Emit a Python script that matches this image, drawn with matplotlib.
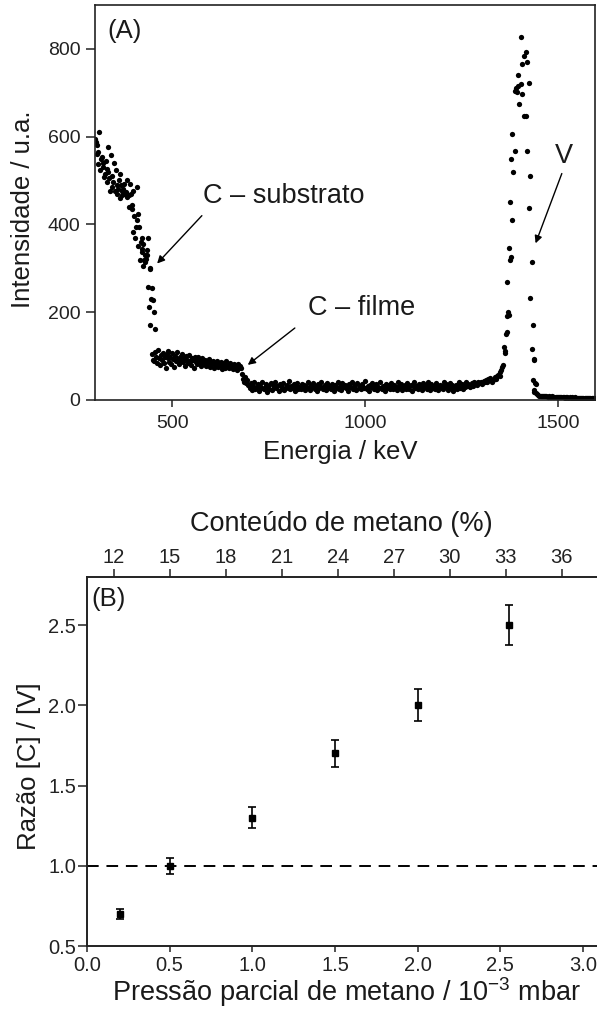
import matplotlib
matplotlib.use("Agg")
import matplotlib.pyplot as plt
import numpy as np

plt.rcParams['font.family'] = ['Liberation Sans', 'DejaVu Sans']
plt.rcParams['mathtext.default'] = 'regular'

# ---------------- Panel A : RBS spectrum ----------------
# substrate carbon edge (energy keV, counts)
sub_energy = [300, 302, 304, 306, 309, 309, 311, 313, 315, 317, 320, 322, 324, 326, 328,
              330, 332, 334, 334, 337, 339, 341, 343, 345, 347, 349, 352, 354, 356, 358,
              360, 362, 365, 365, 367, 369, 369, 372, 375, 378, 380, 382, 384, 387, 389,
              391, 393, 395, 397, 399, 399, 401, 404, 406, 408, 410, 412, 412, 415, 417,
              419, 421, 421, 423, 425, 425, 427, 430, 430, 433, 434, 436, 438, 438, 440,
              442, 442, 442, 445, 449, 451, 453, 455]
sub_counts = [595, 588, 580, 560, 564, 538, 611, 523, 548, 553, 540, 530, 509, 515, 545,
              496, 527, 519, 577, 505, 477, 558, 485, 510, 496, 539, 476, 523, 489, 470,
              481, 502, 514, 461, 490, 477, 466, 480, 492, 470, 475, 501, 462, 468, 439,
              493, 470, 436, 445, 477, 383, 420, 370, 395, 486, 410, 424, 352, 394, 318,
              360, 368, 337, 345, 356, 305, 320, 330, 314, 322, 341, 331, 368, 258, 211,
              301, 299, 170, 230, 256, 227, 200, 161]

# carbon in the film (channel counts, 2.5 keV channels from 448 keV)
film_start_kev = 448
film_step_kev = 2.5
film_counts = [105, 92, 88, 110, 98, 85, 114, 96, 79, 102,
               91, 108, 84, 99, 73, 104, 95, 112, 87, 97,
               82, 106, 93, 76, 101, 89, 109, 94, 81, 98,
               90, 104, 86, 95, 78, 100, 92, 85, 103, 88,
               80, 96, 91, 74, 99, 87, 93, 82, 97, 84,
               90, 78, 95, 86, 81, 92, 77, 89, 84, 93,
               76, 87, 82, 90, 73, 85, 80, 88, 75, 83,
               79, 86, 71, 84, 78, 82, 74, 88, 77, 80,
               72, 85, 76, 79, 70, 83, 75, 78, 69, 81,
               74, 77, 72]

# film edge
edge_energy = [681, 683, 686, 688, 691, 693, 696]
edge_counts = [60, 48, 42, 52, 38, 45, 35]

# low plateau (3 keV channels from 698 keV)
plat_start_kev = 698
plat_step_kev = 3
plat_counts = [34, 27, 38, 22, 31, 40, 25, 29, 36, 21,
               33, 28, 42, 24, 30, 37, 19, 32, 26, 39,
               23, 35, 29, 41, 27, 31, 20, 36, 33, 25,
               38, 22, 30, 34, 28, 43, 24, 31, 27, 36,
               21, 33, 39, 26, 30, 24, 37, 29, 35, 22,
               31, 40, 27, 23, 34, 29, 38, 25, 32, 20,
               36, 28, 33, 41, 24, 30, 35, 22, 39, 27,
               32, 25, 37, 29, 21, 34, 28, 42, 26, 31,
               23, 38, 30, 35, 27, 33, 20, 36, 29, 40,
               25, 31, 34, 22, 39, 28, 32, 24, 37, 30,
               27, 43, 26, 33, 21, 35, 29, 38, 24, 31,
               36, 22, 30, 27, 40, 25, 33, 29, 21, 37,
               28, 34, 24, 39, 31, 26, 35, 30, 23, 41,
               32, 27, 37, 22, 29, 34, 25, 38, 30, 26,
               35, 21, 31, 40, 28, 33, 24, 36, 27, 30,
               22, 38, 29, 34, 26, 41, 31, 23, 37, 28,
               33, 25, 39, 30, 22, 35, 28, 32, 24, 40,
               29, 36, 23, 31, 38, 27, 34, 21, 30, 35,
               26, 32, 40, 28, 37, 24, 33, 29, 42, 31,
               36, 30, 34, 39, 33, 41, 37, 35, 40, 38,
               38, 42, 36, 44, 40, 46, 42, 48, 45, 50]

# vanadium peak (energy keV, counts)
peak_energy = [1329, 1332, 1336, 1339, 1342, 1345, 1349, 1351, 1353, 1356, 1358, 1359,
               1362, 1364, 1366, 1368, 1368, 1370, 1372, 1368, 1372, 1375, 1377, 1376,
               1379, 1380, 1382, 1384, 1388, 1388, 1390, 1393, 1396, 1397, 1399, 1403,
               1404, 1408, 1408, 1411, 1411, 1416, 1416, 1420, 1420, 1424, 1424, 1428,
               1428, 1432, 1432, 1435, 1435, 1437, 1439, 1440, 1442, 1439, 1437, 1444]
peak_counts = [42, 45, 52, 48, 54, 58, 64, 55, 68, 75, 80, 120,
               112, 108, 150, 155, 191, 200, 193, 269, 347, 318, 326, 452,
               549, 411, 606, 520, 568, 703, 712, 701, 741, 716, 674, 720,
               828, 765, 697, 784, 646, 794, 646, 769, 567, 722, 437, 510,
               233, 314, 116, 172, 45, 93, 92, 39, 36, 19, 23, 15]

# background after the peak (3 keV channels from 1446 keV)
tail_start_kev = 1446
tail_step_kev = 3
tail_counts = [13, 11, 10, 9, 9, 8, 9, 8, 8, 7, 8, 7, 7, 8, 6, 7, 7, 6, 7, 6,
               6, 7, 6, 6, 5, 6, 6, 5, 6, 5, 6, 5, 5, 6, 5, 5, 4, 5, 5, 4,
               5, 4, 5, 4, 4, 5, 4, 4, 4, 3, 4]

# ---------------- Panel B ----------------
pressure = [0.2, 0.5, 1.0, 1.5, 2.0, 2.55]
ratio = [0.70, 1.00, 1.30, 1.70, 2.00, 2.50]
ratio_err = [0.03, 0.05, 0.065, 0.085, 0.10, 0.125]
methane_pct_lim = (10.55, 38.03)     # top axis limits matching 0 - 3.1 mbar
methane_ticks = [12, 15, 18, 21, 24, 27, 30, 33, 36]

W, H = 597, 1009
fig = plt.figure(figsize=(W / 100, H / 100), dpi=100)

TICK_FS_A = 14
TICK_FS_B = 14.5
LAB_FS = 18.5
LAB_FS_B = 19.5
TXT = '#1a1a1a'
AXC = '#222222'

# ===== Panel A =====
axA = fig.add_axes([95 / W, 1 - 400 / H, 500 / W, 395 / H])
film_energy = film_start_kev + film_step_kev * np.arange(len(film_counts))
plat_energy = plat_start_kev + plat_step_kev * np.arange(len(plat_counts))
tail_energy = tail_start_kev + tail_step_kev * np.arange(len(tail_counts))
E = np.concatenate([sub_energy, film_energy, edge_energy, plat_energy, peak_energy, tail_energy])
C = np.concatenate([sub_counts, film_counts, edge_counts, plat_counts, peak_counts, tail_counts])
axA.plot(E, C, 'o', color='black', ms=3.8, mew=0, clip_on=True)
axA.set_xlim(300, 1596)
axA.set_ylim(0, 900)
axA.set_xticks([500, 1000, 1500])
axA.set_yticks([0, 200, 400, 600, 800])
axA.tick_params(axis='x', direction='out', length=5, width=1.1, labelsize=TICK_FS_A, pad=6, colors=AXC)
axA.tick_params(axis='y', direction='out', length=6.5, width=1.1, labelsize=TICK_FS_A, pad=4, colors=AXC)
for s in axA.spines.values():
    s.set_linewidth(1.2)
    s.set_color(AXC)
axA.set_xlabel('Energia / keV', fontsize=LAB_FS, color=TXT)
axA.xaxis.set_label_coords(0.49, -0.101)
axA.set_ylabel('Intensidade / u.a.', fontsize=LAB_FS, color=TXT)
axA.yaxis.set_label_coords(-0.12, 0.484)
axA.text(0.024, 0.965, '(A)', transform=axA.transAxes, fontsize=18.5, va='top', ha='left', color=TXT)

arrow = dict(arrowstyle='-|>', color='black', lw=1.0, mutation_scale=11, shrinkA=0, shrinkB=0)
axA.text(580, 448, 'C – substrato', fontsize=19.5, va='baseline', ha='left', color=TXT)
axA.annotate('', xy=(461, 311), xytext=(577, 420), arrowprops=arrow)
axA.text(852, 193, 'C – filme', fontsize=19.5, va='baseline', ha='left', color=TXT)
axA.annotate('', xy=(696, 80), xytext=(818, 164), arrowprops=arrow)
axA.text(1491, 541, 'V', fontsize=19.5, va='baseline', ha='left', color=TXT)
axA.annotate('', xy=(1442, 357), xytext=(1510, 516), arrowprops=arrow)

# ===== Panel B =====
axB = fig.add_axes([87 / W, 1 - 946 / H, 512.5 / W, 369 / H])
axB.errorbar(pressure, ratio, yerr=ratio_err, fmt='s', color='black', ms=4.8,
             elinewidth=1.2, capsize=2.8, capthick=1.2, zorder=3)
axB.axhline(1.0, color='black', lw=1.4, dashes=(6, 4), zorder=2)
axB.set_xlim(0, 3.1)
axB.set_ylim(0.5, 2.8)
axB.set_xticks([0.0, 0.5, 1.0, 1.5, 2.0, 2.5, 3.0])
axB.set_xticklabels(['%.1f' % v for v in [0.0, 0.5, 1.0, 1.5, 2.0, 2.5, 3.0]])
axB.set_yticks([0.5, 1.0, 1.5, 2.0, 2.5])
axB.set_yticklabels(['%.1f' % v for v in [0.5, 1.0, 1.5, 2.0, 2.5]])
axB.tick_params(axis='x', direction='out', length=4.5, width=1.1, labelsize=TICK_FS_B, pad=3, colors=AXC)
axB.tick_params(axis='y', direction='out', length=6.5, width=1.1, labelsize=TICK_FS_B, pad=1.5, colors=AXC)
for s in axB.spines.values():
    s.set_linewidth(1.2)
    s.set_color(AXC)
axB.set_xlabel('Pressão parcial de metano / 10$^{-3}$ mbar', fontsize=LAB_FS_B, color=TXT)
axB.xaxis.set_label_coords(0.507, -0.079)
axB.set_ylabel('Razão [C] / [V]', fontsize=LAB_FS, color=TXT)
axB.yaxis.set_label_coords(-0.089, 0.488)
axB.text(0.008, 0.973, '(B)', transform=axB.transAxes, fontsize=18.5, va='top', ha='left', color=TXT)

top = axB.twiny()
top.set_xlim(*methane_pct_lim)
top.set_xticks(methane_ticks)
top.tick_params(axis='x', direction='out', length=6, width=1.1, labelsize=TICK_FS_B, pad=1, colors=AXC)
for s in top.spines.values():
    s.set_linewidth(1.2)
    s.set_color(AXC)
top.set_xlabel('Conteúdo de metano (%)', fontsize=LAB_FS_B, color=TXT)
top.xaxis.set_label_coords(0.496, 1.125)

fig.savefig('out.png', dpi=100)
